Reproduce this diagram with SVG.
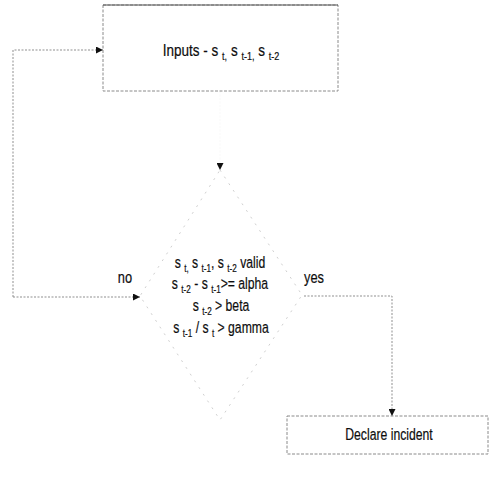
<svg xmlns="http://www.w3.org/2000/svg" width="491" height="484" viewBox="0 0 491 484">
<style>
.t{font-family:"Liberation Sans",Arial,sans-serif;font-size:16.5px;fill:#0d0d0d;stroke:#0d0d0d;stroke-width:0.2}
.sb{font-size:11px}
.box{fill:none;stroke:#8a8a8a;stroke-width:1;stroke-dasharray:3 1.5}
.dia{fill:none;stroke:#d0d0d0;stroke-width:1;stroke-dasharray:2 6}
.c{fill:none;stroke:#8f8f8f;stroke-width:1;stroke-dasharray:2 1.5}
</style>
<defs>
<marker id="ah" viewBox="0 0 10 10" refX="10" refY="5" markerWidth="7" markerHeight="7" orient="auto" markerUnits="userSpaceOnUse">
<path d="M0,0 L10,5 L0,10 Z" fill="#111"/>
</marker>
</defs>
<rect width="491" height="484" fill="#fff"/>
<g id="connectors">
<path class="c" d="M220,91 L220,170" stroke-opacity="0.05" marker-end="url(#ah)"/>
<path class="c" d="M13,297 L13,50 L103,50" marker-end="url(#ah)"/>
<path class="c" d="M13,297 L140,297" marker-end="url(#ah)"/>
<path class="c" d="M304,296 L392,296 L392,416" marker-end="url(#ah)"/>
<text class="t" transform="matrix(0.78 0 0 1 125 0)" x="0" y="283" text-anchor="middle">no</text>
<text class="t" transform="matrix(0.78 0 0 1 314 0)" x="0" y="283" text-anchor="middle">yes</text>
</g>
<g id="inputs">
<path class="box" d="M103,5 H338 V91 H103 Z"/>
<path d="M103,5 H338" fill="none" stroke="#555" stroke-width="1"/>
<text class="t" transform="matrix(0.82 0 0 1 221 0)" x="0" y="56" text-anchor="middle">Inputs - s  <tspan class="sb" dy="4">t,</tspan><tspan dy="-4">  s </tspan><tspan class="sb" dy="4">t-1,</tspan><tspan dy="-4">  s </tspan><tspan class="sb" dy="4">t-2</tspan></text>
</g>
<g id="decision">
<path class="dia" d="M220,170 L302,295 L220,420 L140,296 Z"/>
<text class="t" transform="matrix(0.74 0 0 1 220 0)" x="0" y="268" text-anchor="middle">s <tspan class="sb" dy="4">t,</tspan><tspan dy="-4"> s </tspan><tspan class="sb" dy="4">t-1</tspan><tspan dy="-4">, s </tspan><tspan class="sb" dy="4">t-2</tspan><tspan dy="-4"> valid</tspan></text>
<text class="t" transform="matrix(0.74 0 0 1 220 0)" x="0" y="289" text-anchor="middle">s <tspan class="sb" dy="4">t-2</tspan><tspan dy="-4"> - s </tspan><tspan class="sb" dy="4">t-1</tspan><tspan dy="-4">&gt;= alpha</tspan></text>
<text class="t" transform="matrix(0.74 0 0 1 221 0)" x="0" y="311" text-anchor="middle">s <tspan class="sb" dy="4">t-2</tspan><tspan dy="-4"> &gt; beta</tspan></text>
<text class="t" transform="matrix(0.74 0 0 1 221 0)" x="0" y="333" text-anchor="middle">s <tspan class="sb" dy="4">t-1</tspan><tspan dy="-4"> / s </tspan><tspan class="sb" dy="4">t</tspan><tspan dy="-4"> &gt; gamma</tspan></text>
</g>
<g id="declare">
<path class="box" d="M287,416 H488 V454 H287 Z"/>
<text class="t" transform="matrix(0.74 0 0 1 389 0)" x="0" y="440" text-anchor="middle">Declare incident</text>
</g>
</svg>
